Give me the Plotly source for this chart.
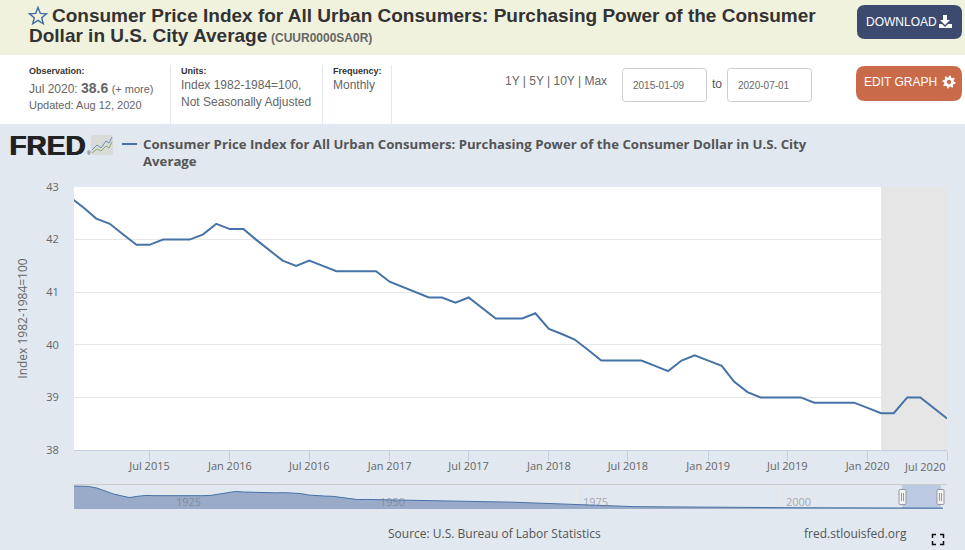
import math
import pandas as pd
import plotly.graph_objects as go

W, H = 965, 550

SERIES_NAME = "Consumer Price Index for All Urban Consumers: Purchasing Power of the Consumer Dollar in U.S. City Average"
cpi_values = [42.8, 42.6, 42.4, 42.3, 42.1, 41.9, 41.9, 42.0, 42.0, 42.0, 42.1, 42.3,
              42.2, 42.2, 42.0, 41.8, 41.6, 41.5, 41.6, 41.5, 41.4, 41.4, 41.4, 41.4,
              41.2, 41.1, 41.0, 40.9, 40.9, 40.8, 40.9, 40.7, 40.5, 40.5, 40.5, 40.6,
              40.3, 40.2, 40.1, 39.9, 39.7, 39.7, 39.7, 39.7, 39.6, 39.5, 39.7, 39.8,
              39.7, 39.6, 39.3, 39.1, 39.0, 39.0, 39.0, 39.0, 38.9, 38.9, 38.9, 38.9,
              38.8, 38.7, 38.7, 39.0, 39.0, 38.8, 38.6]
cpi_dates = pd.date_range("2015-01-01", periods=len(cpi_values), freq="MS")

tick_dates = ["2015-07-01", "2016-01-01", "2016-07-01", "2017-01-01", "2017-07-01", "2018-01-01",
              "2018-07-01", "2019-01-01", "2019-07-01", "2020-01-01", "2020-07-01"]
tick_labels = ["Jul 2015", "Jan 2016", "Jul 2016", "Jan 2017", "Jul 2017", "Jan 2018",
               "Jul 2018", "Jan 2019", "Jul 2019", "Jan 2020", ""]
last_tick_label = "Jul 2020"
y_ticks = [38, 39, 40, 41, 42, 43]

recession = ["2020-02-01", "2020-07-01"]

hist_years = list(range(1913, 2021))
hist_values = [1010, 1000, 990, 917, 781, 662, 578, 500, 559, 595, 585, 585, 571, 565, 575, 585, 585, 599,
               658, 730, 769, 746, 730, 719, 694, 709, 719, 714, 680, 613, 578, 568, 556, 513, 448, 415,
               420, 415, 385, 377, 375, 372, 373, 368, 356, 346, 344, 338, 334, 331, 327, 323, 318, 309,
               300, 288, 273, 258, 247, 239, 225, 203, 186, 176, 165, 153, 138, 122, 110, 103, 100, 96,
               93, 91, 88, 84, 81, 76, 73, 71, 69, 67, 66, 64, 62.5, 61.6, 60.3, 58.3, 56.7, 55.8, 54.6,
               53.2, 51.4, 49.8, 48.4, 46.6, 46.8, 46, 44.6, 43.7, 43, 42.4, 42.2, 41.6, 40.8, 39.8, 39.1, 38.8]
nav_label_years = [1925, 1950, 1975, 2000]

BLUE = "#4572a7"
BG = "#e1e8f0"
HV = "Liberation Sans"
OS = "Open Sans"


def px(x):
    return x / W


def py(y):
    return 1 - y / H


def rrect(x0, y0, x1, y1, r):
    a, b, c, d = px(x0), py(y0), px(x1), py(y1)
    rx, ry = r / W, r / H
    return (f"M{a+rx},{b} L{c-rx},{b} Q{c},{b} {c},{b-ry} L{c},{d+ry} Q{c},{d} {c-rx},{d} "
            f"L{a+rx},{d} Q{a},{d} {a},{d+ry} L{a},{b-ry} Q{a},{b} {a+rx},{b} Z")


def poly(points, close=False):
    s = "M" + " L".join(f"{px(x)},{py(y)}" for x, y in points)
    return s + (" Z" if close else "")


def radial(cx, cy, radii, n, start):
    pts = []
    for i in range(n):
        a = math.radians(start + i * 360 / n)
        r = radii[i % len(radii)]
        pts.append((cx + r * math.cos(a), cy + r * math.sin(a)))
    return pts


shapes = []


def rect(x0, y0, x1, y1, fill, line=None, layer="below"):
    shapes.append(dict(type="rect", xref="paper", yref="paper", x0=px(x0), x1=px(x1), y0=py(y0), y1=py(y1),
                       fillcolor=fill, line=dict(color=line or fill, width=1 if line else 0), layer=layer))


def path(d, fill=None, line=None, width=1, layer="above"):
    shapes.append(dict(type="path", xref="paper", yref="paper", path=d,
                       fillcolor=fill or "rgba(0,0,0,0)",
                       line=dict(color=line or "rgba(0,0,0,0)", width=width if line else 0), layer=layer))


annotations = []


def text(x, y, s, size=12, color="#666666", font=HV, anchor="left", bold=False, shadow=None, **kw):
    f = dict(family=font, size=size, color=color)
    if shadow:
        f["shadow"] = shadow
    annotations.append(dict(xref="paper", yref="paper", x=px(x - 1 if anchor == "left" else x), y=py(y),
                            text=(f"<b>{s}</b>" if bold else s),
                            showarrow=False, xanchor=anchor, yanchor="middle", align=anchor,
                            font=f, borderpad=0, **kw))


# page bands
rect(0, 0, W, 55, "#f1f2dd")
rect(0, 55, W, 124, "#ffffff")
for x in (170.5, 322.5, 391.5):
    rect(x - 0.5, 65, x + 0.5, 124, BG)
# plot + navigator backgrounds
rect(74, 187, 947, 450, "#ffffff")
rect(74, 484, 947, 485, "#cccccc")
rect(902, 485, 941, 509, "#bcc9e2")

# buttons and inputs
path(rrect(857, 5, 962, 39, 8), fill="#3b4a6e", layer="below")
path(rrect(856, 66, 962, 101, 9), fill="#c96a48", layer="below")
path(rrect(622.5, 68.5, 706.5, 101.5, 3), fill="#ffffff", line="#cccccc", layer="below")
path(rrect(727.5, 68.5, 811.5, 101.5, 3), fill="#ffffff", line="#cccccc", layer="below")

# favourite star
path(poly(radial(38, 16.5, [9, 3.9], 10, -90), True), line="#3b6ba5", width=1.4)
# download icon
path(poly([(943, 15), (947, 15), (947, 20), (950, 20), (945, 25), (940, 20), (943, 20)], True), fill="#ffffff")
path(poly([(939, 24), (942, 24), (945, 27), (948, 24), (952, 24), (952, 28), (939, 28)], True), fill="#ffffff")
# gear icon
path(poly(radial(949, 82, [6.6, 6.6, 4.8, 4.8], 32, 5), True), fill="#ffffff")
path(poly(radial(949, 82, [2.2], 16, 0), True), fill="#c96a48")

# FRED logo glyph
path(rrect(91, 135, 113, 155, 2), fill="#d9dbd9")
path(poly([(92, 150), (97, 145), (101, 148), (106, 141), (109, 143), (112, 137)]), line="#6f8fb5", width=1)
path(poly([(92, 153), (97, 149), (101, 151), (106, 146), (109, 148), (112, 142)]), line="#8fa868", width=1)
# legend key
rect(122, 143, 137, 145, BLUE, layer="above")
# fullscreen icon
for pts in ([(932.5, 538), (932.5, 534.5), (936, 534.5)], [(940, 534.5), (943.5, 534.5), (943.5, 538)],
            [(932.5, 541), (932.5, 544.5), (936, 544.5)], [(940, 544.5), (943.5, 544.5), (943.5, 541)]):
    path(poly(pts), line="#111111", width=1.5)

# navigator handles
for hx in (902.5, 940.5):
    path(rrect(hx - 3.5, 489.5, hx + 3.5, 504.5, 1), fill="#f2f2f2", line="#999999")
    path(poly([(hx - 1, 493), (hx - 1, 501)]), line="#999999")
    path(poly([(hx + 1, 493), (hx + 1, 501)]), line="#999999")

# header text
text(52, 16, "Consumer Price Index for All Urban Consumers: Purchasing Power of the Consumer", 19, "#333333", bold=True)
text(29, 36, "Dollar in U.S. City Average", 19, "#333333", bold=True)
text(271, 38, "(CUUR0000SA0R)", 12, "#666666", bold=True)
text(866, 22, "DOWNLOAD", 12, "#ffffff")
text(864, 82, "EDIT GRAPH", 12, "#ffffff")

text(29, 71, "Observation:", 9, "#333333", bold=True)
text(29, 88, "Jul 2020: <b><span style='font-size:14px'>38.6</span></b> <span style='font-size:11px'>(+ more)</span>", 12)
text(29, 105, "Updated: Aug 12, 2020", 11)
text(181, 71, "Units:", 9, "#333333", bold=True)
text(181, 85, "Index 1982-1984=100,", 12)
text(181, 102, "Not Seasonally Adjusted", 12)
text(333, 71, "Frequency:", 9, "#333333", bold=True)
text(333, 85, "Monthly", 12)
text(505, 81, "1Y | 5Y | 10Y | Max", 12)
text(633, 85, "2015-01-09", 10)
text(712, 84, "to", 12, "#555555")
text(738, 85, "2020-07-01", 10)

# logo and legend text
text(9, 145, "FRED", 28, "#222222", bold=True, shadow="1px 0 0 #222222")
text(87, 153, "®", 5, "#222222")
text(143, 144, "Consumer Price Index for All Urban Consumers: Purchasing Power of the Consumer Dollar in U.S. City",
     13.2, "#555555", font=OS, bold=True)
text(143, 161, "Average", 13.2, "#555555", font=OS, bold=True)

# footer
text(494, 533, "Source: U.S. Bureau of Labor Statistics", 12, "#555555", font=OS, anchor="center")
text(804, 533, "fred.stlouisfed.org", 12, "#555555", font=OS)
text(946.5, 466, last_tick_label, 11, "#666666", font=OS, anchor="right")

for yr in nav_label_years:
    annotations.append(dict(xref="x2", yref="paper", x=f"{yr}-01-01", y=py(501), text=str(yr), showarrow=False,
                            xanchor="left", yanchor="middle", xshift=4,
                            font=dict(family=OS, size=11, color="rgba(110,110,110,0.55)")))

# recession band, behind the gridlines
shapes.append(dict(type="rect", xref="x", yref="y", x0=recession[0], x1=recession[1], y0=38, y1=43,
                   fillcolor="#e6e6e6", line=dict(width=0), layer="below"))

fig = go.Figure()
fig.add_trace(go.Scatter(x=cpi_dates, y=cpi_values, mode="lines", name=SERIES_NAME,
                         line=dict(color=BLUE, width=2), xaxis="x", yaxis="y", showlegend=False))
fig.add_trace(go.Scatter(x=[f"{y}-01-01" for y in hist_years], y=hist_values, mode="lines", fill="tozeroy",
                         fillcolor="#9aabc9", line=dict(color=BLUE, width=1), xaxis="x2", yaxis="y2",
                         showlegend=False, hoverinfo="skip"))

fig.update_layout(
    width=W, height=H, autosize=False,
    margin=dict(l=0, r=0, t=0, b=0, autoexpand=False),
    paper_bgcolor=BG, plot_bgcolor="rgba(0,0,0,0)",
    font=dict(family=OS, size=11, color="#666666"),
    showlegend=False,
    shapes=shapes, annotations=annotations,
    xaxis=dict(domain=[px(74), px(947)], range=["2015-01-09", "2020-07-01"], anchor="y",
               tickmode="array", tickvals=tick_dates, ticktext=tick_labels,
               ticks="outside", ticklen=10, tickcolor="#c0d0e0", tickwidth=1, ticklabelstandoff=-4,
               showline=True, linecolor="#c0d0e0", linewidth=1, showgrid=False, zeroline=False,
               tickangle=0, automargin=False, tickfont=dict(family=OS, size=11, color="#666666")),
    yaxis=dict(domain=[py(450), py(187)], range=[38, 43], anchor="x",
               tickmode="array", tickvals=y_ticks, ticks="outside", ticklen=12, tickcolor="rgba(0,0,0,0)",
               showgrid=True, gridcolor="#e6e6e6", gridwidth=1, zeroline=False, showline=False, automargin=False,
               tickfont=dict(family=OS, size=11, color="#666666"),
               title=dict(text="Index 1982-1984=100", font=dict(family=OS, size=12, color="#666666"), standoff=16)),
    xaxis2=dict(domain=[px(74), px(947)], range=["1913-03-01", "2020-07-01"], anchor="y2",
                tickmode="array", tickvals=[f"{y}-01-01" for y in nav_label_years], showticklabels=False,
                ticks="", showgrid=True, gridcolor="#ebebe6", zeroline=False, showline=False, automargin=False),
    yaxis2=dict(domain=[py(509), py(485)], range=[0, 1054], anchor="x2", visible=False),
)

fig.write_html("out.html", post_script="document.body.style.margin='0';document.body.style.overflow='hidden';",
               config=dict(displayModeBar=False))
